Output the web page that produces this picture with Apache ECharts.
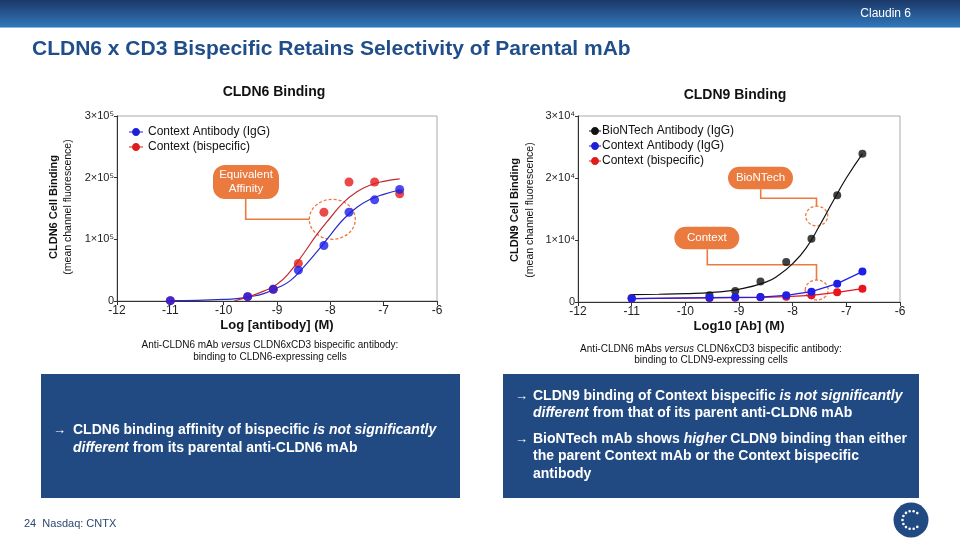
<!DOCTYPE html>
<html><head><meta charset="utf-8">
<script src="https://cdn.jsdelivr.net/npm/echarts@6/dist/echarts.min.js"></script>
<style>html,body{margin:0;padding:0;background:#fff}#c{width:960px;height:540px}</style>
</head><body><div id="c"></div>
<script>
// ---------------- data ----------------
const doses = [-11, -9.55, -9.07, -8.6, -8.12, -7.65, -7.17, -6.7];
// CLDN6 binding (points)
const cldn6IgG = [500, 7000, 19000, 50000, 90000, 144000, 164000, 181000];
const cldn6Bis = [500, 7000, 19000, 61000, 144000, 193000, 193000, 174000];
// CLDN6 fitted curves
const fit6IgGX = [-11, -10.5, -10, -9.75, -9.5, -9.25, -9, -8.75, -8.5, -8.25, -8, -7.75, -7.5, -7.25, -7, -6.7];
const fit6IgGY = [500, 1000, 2500, 4000, 7000, 12000, 21000, 33000, 55000, 80000, 107000, 133000, 152000, 165000, 173000, 180000];
const fit6BisX = [-9.8, -9.5, -9.25, -9, -8.75, -8.5, -8.25, -8, -7.75, -7.5, -7.25, -7, -6.7];
const fit6BisY = [0, 8000, 16000, 27000, 48000, 77000, 108000, 135000, 160000, 177000, 188000, 194000, 198000];
// CLDN9 binding (points)
const cldn9BNT = [650, 1080, 1780, 3300, 6460, 10200, 17200, 23900];
const cldn9IgG = [550, 700, 750, 800, 1080, 1670, 2960, 4900];
const cldn9Bis = [550, 650, 700, 750, 860, 1080, 1560, 2150];
// CLDN9 BioNTech fitted curve
const fit9BNTX = [-11, -10.5, -10, -9.5, -9, -8.5, -8.25, -8, -7.75, -7.5, -7.25, -7, -6.7];
const fit9BNTY = [1200, 1250, 1350, 1550, 2050, 3200, 4400, 6200, 8700, 12300, 16200, 20000, 23900];
// tick labels
const xTickLabels = ['-12', '-11', '-10', '-9', '-8', '-7', '-6'];
const y6TickLabels = ['0', '1×10⁵', '2×10⁵', '3×10⁵'];
const y9TickLabels = ['0', '1×10⁴', '2×10⁴', '3×10⁴'];
// series names
const nBNT = 'BioNTech Antibody (IgG)';
const nIgG = 'Context Antibody (IgG)';
const nBis = 'Context (bispecific)';

// ---------------- helpers ----------------
const zip = (xs, ys) => xs.map((x, i) => [x, ys[i]]);
const FONT = "'Liberation Sans', Arial, sans-serif";
const NARROW = "'Liberation Sans Narrow', 'Liberation Sans', Arial, sans-serif";
const ORANGE = '#eb7a3e';
const NAVY = '#214a83';
const iconL = 'path://M0,3.4L14,3.4L14,4.6L0,4.6Z M3,4C3,1.8 4.8,0 7,0C9.2,0 11,1.8 11,4C11,6.2 9.2,8 7,8C4.8,8 3,6.2 3,4Z';
const iconR = 'path://M0,3.4L12,3.4L12,4.6L0,4.6Z M2,4C2,1.8 3.8,0 6,0C8.2,0 10,1.8 10,4C10,6.2 8.2,8 6,8C3.8,8 2,6.2 2,4Z';

function xAxisCfg(gi, name) {
  return {
    type: 'value', gridIndex: gi, min: -12, max: -6, interval: 1,
    name: name, nameLocation: 'middle', nameGap: 18,
    nameTextStyle: { fontFamily: FONT, fontWeight: 'bold', fontSize: 13, color: '#111' },
    axisLine: { show: true, onZero: false, lineStyle: { color: '#333', width: 1 } },
    axisTick: { show: true, length: 4, lineStyle: { color: '#333' } },
    axisLabel: { fontFamily: FONT, fontSize: 12, color: '#222', margin: 4,
      formatter: v => xTickLabels[Math.round(v + 12)] },
    splitLine: { show: false }
  };
}
function yAxisCfg(gi, max, labels) {
  return {
    type: 'value', gridIndex: gi, min: 0, max: max, interval: max / 3,
    axisLine: { show: true, lineStyle: { color: '#333', width: 1 } },
    axisTick: { show: true, length: 3, lineStyle: { color: '#333' } },
    axisLabel: { fontFamily: FONT, fontSize: 11, color: '#222', margin: 3,
      formatter: v => labels[Math.round(v / (max / 3))] },
    splitLine: { show: false }
  };
}

// ---------------- graphics (decorations) ----------------
const g = [];
// banner
g.push({ type: 'rect', shape: { x: 0, y: 0, width: 960, height: 27 }, z: 0,
  style: { fill: new echarts.graphic.LinearGradient(0, 0, 0, 1, [
    { offset: 0, color: '#1b3867' }, { offset: 1, color: '#3177bb' }]) } });
g.push({ type: 'line', shape: { x1: 0, y1: 27.5, x2: 960, y2: 27.5 }, style: { stroke: '#8cb8e0', lineWidth: 1 } });
g.push({ type: 'text', x: 911, y: 14, style: { text: 'Claudin 6', fill: '#fff', font: '12px ' + NARROW, align: 'right', verticalAlign: 'middle' } });
// title
g.push({ type: 'text', x: 32, y: 49, style: { text: 'CLDN6 x CD3 Bispecific Retains Selectivity of Parental mAb',
  fill: '#1f4e8a', font: 'bold 21px ' + FONT, verticalAlign: 'middle' } });
// chart titles
g.push({ type: 'text', x: 274, y: 92, style: { text: 'CLDN6 Binding', fill: '#111', font: 'bold 14px ' + FONT, align: 'center', verticalAlign: 'middle' } });
g.push({ type: 'text', x: 735, y: 95, style: { text: 'CLDN9 Binding', fill: '#111', font: 'bold 14px ' + FONT, align: 'center', verticalAlign: 'middle' } });
// y axis names
function yName(x1, x2, cy, bold) {
  g.push({ type: 'text', x: x1, y: cy, rotation: Math.PI / 2, style: { text: bold, fill: '#111', font: 'bold 11px ' + FONT, align: 'center', verticalAlign: 'middle' } });
  g.push({ type: 'text', x: x2, y: cy, rotation: Math.PI / 2, style: { text: '(mean channel fluorescence)', fill: '#111', font: '10.5px ' + FONT, align: 'center', verticalAlign: 'middle' } });
}
yName(53.5, 68, 207, 'CLDN6 Cell Binding');
yName(515, 530.5, 210, 'CLDN9 Cell Binding');
// captions
function caption(cx, y1, y2, pre, post, line2) {
  g.push({ type: 'text', x: cx, y: y1, style: { text: '{n|' + pre + '}{i|versus}{n|' + post + '}', align: 'center', verticalAlign: 'middle',
    rich: { n: { font: '10px ' + NARROW, fill: '#111' }, i: { font: 'italic 10px ' + NARROW, fill: '#111' } } } });
  g.push({ type: 'text', x: cx, y: y2, style: { text: line2, font: '10px ' + NARROW, fill: '#111', align: 'center', verticalAlign: 'middle' } });
}
caption(270, 345, 357, 'Anti-CLDN6 mAb ', ' CLDN6xCD3 bispecific antibody:', 'binding to CLDN6-expressing cells');
caption(711, 349, 360, 'Anti-CLDN6 mAbs ', ' CLDN6xCD3 bispecific antibody:', 'binding to CLDN9-expressing cells');
// callouts
function callout(x, y, w, h, text, lines, cx, cy, rx, ry) {
  g.push({ type: 'rect', shape: { x: x, y: y, width: w, height: h, r: Math.min(12, h / 2) }, style: { fill: ORANGE } });
  g.push({ type: 'text', x: x + w / 2, y: y + h / 2, style: { text: text, fill: '#fff', font: '11.5px ' + FONT, align: 'center', verticalAlign: 'middle', lineHeight: 14 } });
  g.push({ type: 'polyline', shape: { points: lines }, style: { stroke: ORANGE, lineWidth: 1.6, fill: null } });
  g.push({ type: 'ellipse', shape: { cx: cx, cy: cy, rx: rx, ry: ry }, style: { stroke: ORANGE, lineWidth: 1.3, fill: null, lineDash: [3, 2] } });
}
callout(213, 165, 66, 34, 'Equivalent\nAffinity', [[245.7, 199], [245.7, 219.3], [309.5, 219.3]], 332.3, 219.3, 23, 20);
callout(728, 166.7, 65, 22.6, 'BioNTech', [[760.7, 189.3], [760.7, 198.3], [816.5, 198.3], [816.5, 206.3]], 816.7, 216, 11, 9.8);
callout(674.3, 226.7, 65, 22.6, 'Context', [[707.3, 249.3], [707.3, 264.8], [816.5, 264.8], [816.5, 280]], 816.7, 290, 11.5, 10);
// bottom boxes
g.push({ type: 'rect', shape: { x: 41, y: 374, width: 419, height: 124 }, style: { fill: NAVY } });
g.push({ type: 'rect', shape: { x: 503, y: 374, width: 416, height: 124 }, style: { fill: NAVY } });
const RB = { b: { font: 'bold 14px ' + FONT, fill: '#fff' }, i: { font: 'italic bold 14px ' + FONT, fill: '#fff' } };
function boxLine(x, y, t) {
  g.push({ type: 'text', x: x, y: y, style: { text: t, verticalAlign: 'middle', rich: RB } });
}
function arrow(x, y) {
  g.push({ type: 'text', x: x, y: y, style: { text: '→', fill: '#fff', font: '13px ' + FONT, verticalAlign: 'middle' } });
}
arrow(53, 430);
boxLine(73, 430, '{b|CLDN6 binding affinity of bispecific }{i|is not significantly}');
boxLine(73, 448, '{i|different}{b| from its parental anti-CLDN6 mAb}');
arrow(515, 396);
boxLine(533, 396, '{b|CLDN9 binding of Context bispecific }{i|is not significantly}');
boxLine(533, 413.5, '{i|different}{b| from that of its parent anti-CLDN6 mAb}');
arrow(515, 439);
boxLine(533, 439, '{b|BioNTech mAb shows }{i|higher}{b| CLDN9 binding than either}');
boxLine(533, 456.5, '{b|the parent Context mAb or the Context bispecific}');
boxLine(533, 474, '{b|antibody}');
// footer
g.push({ type: 'text', x: 24, y: 524, style: { text: '24  Nasdaq: CNTX', fill: '#2c4770', font: '11px ' + FONT, verticalAlign: 'middle' } });
// logo
g.push({ type: 'circle', shape: { cx: 911, cy: 520, r: 17.5 }, style: { fill: NAVY } });
for (let k = 0; k < 11; k++) {
  const a = (50 + k * 26) * Math.PI / 180;
  g.push({ type: 'circle', shape: { cx: 911.5 + 9 * Math.cos(a), cy: 520 - 9 * Math.sin(a), r: 1.3 }, style: { fill: '#fff' } });
}

// ---------------- chart ----------------
const chart = echarts.init(document.getElementById('c'), null, { renderer: 'canvas' });
chart.setOption({
  animation: false,
  backgroundColor: '#fff',
  grid: [
    { left: 117, top: 116, width: 320, height: 185, show: true, borderColor: '#aaa', borderWidth: 1, backgroundColor: 'transparent', containLabel: false, outerBoundsMode: 'none' },
    { left: 578, top: 116, width: 322, height: 186, show: true, borderColor: '#aaa', borderWidth: 1, backgroundColor: 'transparent', containLabel: false, outerBoundsMode: 'none' }
  ],
  xAxis: [xAxisCfg(0, 'Log [antibody] (M)'), xAxisCfg(1, 'Log10 [Ab] (M)')],
  yAxis: [yAxisCfg(0, 300000, y6TickLabels), yAxisCfg(1, 30000, y9TickLabels)],
  legend: [
    { orient: 'vertical', left: 124, top: 121, itemWidth: 14, itemHeight: 8, itemGap: 3,
      textStyle: { fontFamily: FONT, fontSize: 12, color: '#111' },
      data: [{ name: nIgG, icon: iconL }, { name: nBis, icon: iconL }] },
    { orient: 'vertical', left: 584, top: 120, itemWidth: 12, itemHeight: 8, itemGap: 3,
      textStyle: { fontFamily: FONT, fontSize: 12, color: '#111', padding: [0, 0, 0, -4] },
      data: [{ name: nBNT, icon: iconR, itemStyle: { color: '#111' } }, { name: nIgG, icon: iconR }, { name: nBis, icon: iconR }] }
  ],
  series: [
    // CLDN6
    { name: nIgG, type: 'line', xAxisIndex: 0, yAxisIndex: 0, data: zip(fit6IgGX, fit6IgGY), smooth: true, showSymbol: false, color: '#1f1fd6', lineStyle: { width: 1.2, color: '#2a2ac8' }, z: 2 },
    { name: nBis, type: 'line', xAxisIndex: 0, yAxisIndex: 0, data: zip(fit6BisX, fit6BisY), smooth: true, showSymbol: false, color: '#e01b1b', lineStyle: { width: 1.2, color: '#c3282f' }, z: 2 },
    { name: nBis, type: 'scatter', xAxisIndex: 0, yAxisIndex: 0, data: zip(doses, cldn6Bis), symbolSize: 9, itemStyle: { color: '#e31b1b' }, z: 3 },
    { name: nIgG, type: 'scatter', xAxisIndex: 0, yAxisIndex: 0, data: zip(doses, cldn6IgG), symbolSize: 9, itemStyle: { color: '#1b1be8' }, z: 4 },
    // CLDN9
    { name: nBNT, type: 'line', xAxisIndex: 1, yAxisIndex: 1, data: zip(fit9BNTX, fit9BNTY), smooth: true, showSymbol: false, color: '#111', lineStyle: { width: 1.2, color: '#111' }, z: 2 },
    { name: nBNT, type: 'scatter', xAxisIndex: 1, yAxisIndex: 1, data: zip(doses, cldn9BNT), symbolSize: 8, itemStyle: { color: '#111' }, z: 3 },
    { name: nBis, type: 'line', xAxisIndex: 1, yAxisIndex: 1, data: zip(doses, cldn9Bis), symbol: 'circle', symbolSize: 8, showSymbol: true, itemStyle: { color: '#e8141e' }, lineStyle: { width: 1.2, color: '#e8141e' }, z: 3 },
    { name: nIgG, type: 'line', xAxisIndex: 1, yAxisIndex: 1, data: zip(doses, cldn9IgG), symbol: 'circle', symbolSize: 8, showSymbol: true, itemStyle: { color: '#1f1fe8' }, lineStyle: { width: 1.2, color: '#1f1fe8' }, z: 4 }
  ],
  graphic: { elements: g }
});
</script></body></html>
